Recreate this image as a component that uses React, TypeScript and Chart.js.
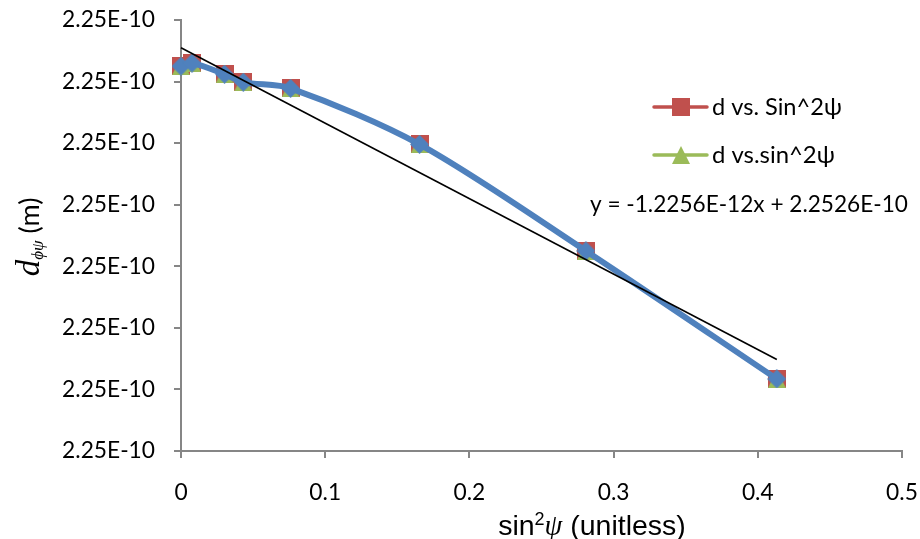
import React, { useEffect, useRef } from 'react';
import { Chart, registerables } from 'chart.js';

Chart.register(...registerables);

// ---------------- data ----------------
const sin2Psi = [0, 0.0076, 0.0302, 0.0432, 0.076, 0.1654, 0.2808, 0.4132];
const dSeriesRed = [2.25225e-10, 2.2523e-10, 2.25212e-10, 2.25199e-10, 2.25189e-10, 2.25098e-10, 2.24925e-10, 2.24717e-10];
const dSeriesGreen = [2.25225e-10, 2.2523e-10, 2.25212e-10, 2.25199e-10, 2.25189e-10, 2.25098e-10, 2.24925e-10, 2.24717e-10];
const dSeriesBlue = [2.25225e-10, 2.2523e-10, 2.25212e-10, 2.25199e-10, 2.25189e-10, 2.25098e-10, 2.24925e-10, 2.24717e-10];
const seriesNames = ['d vs. Sin^2ψ', 'd vs.sin^2ψ', 'd (smoothed)', 'Linear trend'];
const yTickValues = [2.246e-10, 2.247e-10, 2.248e-10, 2.249e-10, 2.25e-10, 2.251e-10, 2.252e-10, 2.253e-10];
const xTickValues = [0, 0.1, 0.2, 0.3, 0.4, 0.5];
const trendEquation = 'y = -1.2256E-12x + 2.2526E-10';

// ---------------- styles ----------------
const RED = '#C0504D';
const GREEN = '#9BBB59';
const BLUE = '#4F81BD';
const AXIS = '#868686';
const SANS = 'Lato, "Open Sans", sans-serif';

function linearFit(xs: number[], ys: number[]) {
  const n = xs.length;
  const mx = xs.reduce((a, b) => a + b, 0) / n;
  const my = ys.reduce((a, b) => a + b, 0) / n;
  let sxx = 0;
  let sxy = 0;
  for (let i = 0; i < n; i++) {
    sxx += (xs[i] - mx) * (xs[i] - mx);
    sxy += (xs[i] - mx) * (ys[i] - my);
  }
  const slope = sxy / sxx;
  return { slope, intercept: my - slope * mx };
}

function makeMarker(shape: string, size: number, color: string) {
  const cv = document.createElement('canvas');
  cv.width = size;
  cv.height = size;
  const c = cv.getContext('2d')!;
  c.fillStyle = color;
  c.beginPath();
  if (shape === 'square') {
    c.rect(0, 0, size, size);
  } else if (shape === 'triangle') {
    c.moveTo(size / 2, 0);
    c.lineTo(size, size);
    c.lineTo(0, size);
  } else {
    c.moveTo(size / 2, 0);
    c.lineTo(size, size / 2);
    c.lineTo(size / 2, size);
    c.lineTo(0, size / 2);
  }
  c.closePath();
  c.fill();
  return cv;
}

function fitSize(c: CanvasRenderingContext2D, text: string, font: string, target: number) {
  c.font = `100px ${font}`;
  const w = c.measureText(text).width;
  return (100 * target) / w;
}

export default function App() {
  const ref = useRef<HTMLCanvasElement | null>(null);

  useEffect(() => {
    const canvas = ref.current!;
    const measureCtx = document.createElement('canvas').getContext('2d')!;
    const tickSize = fitSize(measureCtx, '2.25E-10', SANS, 93);

    const square = makeMarker('square', 18, RED);
    const tri = makeMarker('triangle', 18, GREEN);
    const diamond = makeMarker('diamond', 19, BLUE);

    const fit = linearFit(sin2Psi, dSeriesRed);
    const xEnd = sin2Psi[sin2Psi.length - 1];
    const trendData = [
      { x: 0, y: fit.intercept },
      { x: xEnd, y: fit.intercept + fit.slope * xEnd },
    ];

    const pts = (ys: number[]) => sin2Psi.map((x, i) => ({ x, y: ys[i] }));

    const overlay = {
      id: 'overlay',
      afterDraw(chart: any) {
        const c: CanvasRenderingContext2D = chart.ctx;
        c.save();
        // legend
        const legend = [
          { name: seriesNames[0], color: RED, marker: square, y: 107, w: 130 },
          { name: seriesNames[1], color: GREEN, marker: tri, y: 155, w: 123 },
        ];
        legend.forEach((it) => {
          c.strokeStyle = it.color;
          c.lineWidth = 3.5;
          c.lineCap = 'round';
          c.beginPath();
          c.moveTo(654, it.y);
          c.lineTo(707, it.y);
          c.stroke();
          c.drawImage(it.marker, 681 - it.marker.width / 2, it.y - it.marker.height / 2);
          const fs = fitSize(c, it.name, SANS, it.w);
          c.font = `${fs}px ${SANS}`;
          c.fillStyle = '#000';
          c.textAlign = 'left';
          c.textBaseline = 'middle';
          c.fillText(it.name, 712, it.y);
        });
        // equation
        const es = fitSize(c, trendEquation, SANS, 318);
        c.font = `${es}px ${SANS}`;
        c.fillStyle = '#000';
        c.textAlign = 'left';
        c.textBaseline = 'middle';
        c.fillText(trendEquation, 590, 205);

        // x title: sin²ψ (unitless)
        const xt = [
          { t: 'sin', f: '28.5px "Liberation Sans", Arial, sans-serif', dy: 0 },
          { t: '2', f: '18px "Liberation Sans", Arial, sans-serif', dy: -10 },
          { t: 'ψ', f: 'italic 28.5px "Liberation Serif", "DejaVu Serif", serif', dy: 0 },
          { t: ' (unitless)', f: '28.5px "Liberation Sans", Arial, sans-serif', dy: 0 },
        ];
        c.textBaseline = 'alphabetic';
        let total = 0;
        xt.forEach((p) => {
          c.font = p.f;
          total += c.measureText(p.t).width;
        });
        let x = 592 - total / 2;
        xt.forEach((p) => {
          c.font = p.f;
          c.fillText(p.t, x, 535 + p.dy);
          x += c.measureText(p.t).width;
        });

        // y title: d_ϕψ (m)
        const yt = [
          { t: 'd', f: 'italic 33px "Liberation Serif", "DejaVu Serif", serif', dy: 0 },
          { t: 'ϕψ', f: 'italic 17px "Liberation Serif", "DejaVu Serif", serif', dy: 4 },
          { t: ' (m)', f: `27px ${SANS}`, dy: 0 },
        ];
        c.translate(39, 237);
        c.rotate(-Math.PI / 2);
        total = 0;
        yt.forEach((p) => {
          c.font = p.f;
          total += c.measureText(p.t).width;
        });
        x = -total / 2;
        yt.forEach((p) => {
          c.font = p.f;
          c.fillText(p.t, x, p.dy);
          x += c.measureText(p.t).width;
        });
        c.restore();
      },
    };

    const chart = new Chart(canvas, {
      type: 'scatter',
      data: {
        datasets: [
          {
            label: seriesNames[3],
            data: trendData,
            showLine: true,
            borderColor: '#000',
            borderWidth: 1.6,
            pointRadius: 0,
            order: 0,
            clip: false,
          },
          {
            label: seriesNames[2],
            data: pts(dSeriesBlue),
            showLine: true,
            borderColor: BLUE,
            backgroundColor: BLUE,
            borderWidth: 6,
            tension: 0.3,
            pointStyle: diamond,
            pointRadius: 10,
            order: 1,
            clip: false,
          },
          {
            label: seriesNames[1],
            data: pts(dSeriesGreen),
            showLine: true,
            borderColor: GREEN,
            backgroundColor: GREEN,
            borderWidth: 3,
            tension: 0.3,
            pointStyle: tri,
            pointRadius: 10,
            order: 2,
            clip: false,
          },
          {
            label: seriesNames[0],
            data: pts(dSeriesRed),
            showLine: true,
            borderColor: RED,
            backgroundColor: RED,
            borderWidth: 3,
            tension: 0.3,
            pointStyle: square,
            pointRadius: 10,
            order: 3,
            clip: false,
          },
        ],
      } as any,
      options: {
        animation: false,
        responsive: false,
        devicePixelRatio: 1,
        layout: { padding: { top: 20, right: 18, left: 0, bottom: 0 } },
        plugins: { legend: { display: false }, tooltip: { enabled: false } },
        scales: {
          x: {
            type: 'linear',
            min: 0,
            max: 0.5,
            afterBuildTicks: (s: any) => {
              s.ticks = xTickValues.map((v) => ({ value: v }));
            },
            afterFit: (s: any) => {
              s.height = 88;
              s.paddingLeft = 0;
              s.paddingRight = 0;
            },
            grid: { drawOnChartArea: false, drawTicks: true, tickLength: 7, color: AXIS, lineWidth: 2 },
            border: { display: true, color: AXIS, width: 2 },
            ticks: {
              color: '#000',
              font: { family: SANS, size: tickSize },
              padding: 21,
              maxRotation: 0,
              callback: (v: any) => String(Number(v)),
            },
          },
          y: {
            type: 'linear',
            min: yTickValues[0],
            max: yTickValues[yTickValues.length - 1],
            afterBuildTicks: (s: any) => {
              s.ticks = yTickValues.map((v) => ({ value: v }));
            },
            afterFit: (s: any) => {
              s.width = 181;
              s.paddingTop = 0;
              s.paddingBottom = 0;
            },
            grid: { drawOnChartArea: false, drawTicks: true, tickLength: 7, color: AXIS, lineWidth: 2 },
            border: { display: true, color: AXIS, width: 2 },
            ticks: {
              color: '#000',
              font: { family: SANS, size: tickSize },
              padding: 19,
              callback: (v: any) => Number(v).toExponential(2).toUpperCase(),
            },
          },
        },
      } as any,
      plugins: [overlay],
    });

    return () => chart.destroy();
  }, []);

  return (
    <div style={{ position: 'fixed', left: 0, top: 0, width: 920, height: 539, background: '#fff' }}>
      <canvas ref={ref} width={920} height={539} style={{ width: 920, height: 539, display: 'block' }} />
    </div>
  );
}
